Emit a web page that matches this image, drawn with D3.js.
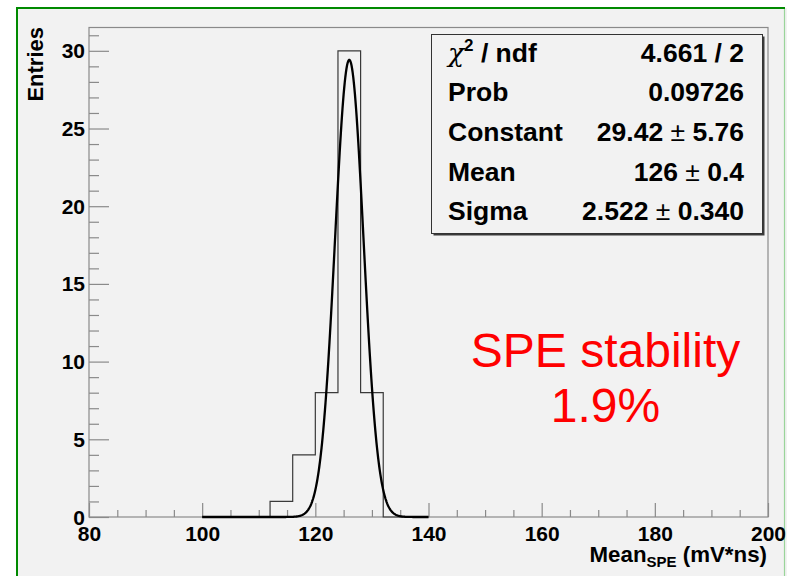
<!DOCTYPE html>
<html>
<head>
<meta charset="utf-8">
<script src="https://cdn.jsdelivr.net/npm/d3@7"></script>
<style>
  html, body { margin: 0; padding: 0; background: #ffffff; }
  svg { display: block; font-family: "Liberation Sans", Arial, Helvetica, sans-serif; }
</style>
</head>
<body>
<svg id="chart" width="787" height="576"></svg>
<script>
// Histogram of the mean single-photo-electron charge, 4 mV*ns bins from 100 to 140
const binEdges = [100, 104, 108, 112, 116, 120, 124, 128, 132, 136, 140];
const binCounts = [0, 0, 0, 1, 4, 8, 30, 8, 0, 0];

// Axis ticks
const xMajorTicks = [80, 100, 120, 140, 160, 180, 200];
const yMajorTicks = [0, 5, 10, 15, 20, 25, 30];

// Gaussian fit results shown in the stats box
const fitChi2 = "4.661";
const fitNdf = "2";
const fitProb = "0.09726";
const fitConstant = ["29.42", "5.76"];
const fitMean = ["126", "0.4"];
const fitSigma = ["2.522", "0.340"];
const fitRange = [100, 140];

const noteLines = ["SPE stability", "1.9%"];

const svg = d3.select("#chart");
const W = 787, H = 576;

// canvas: light grey pad inside a green frame
svg.append("rect").attr("x", 17).attr("y", 8).attr("width", W).attr("height", H)
  .attr("fill", "#f2f2f2");
svg.append("line").attr("x1", 17).attr("x2", 17).attr("y1", 8).attr("y2", H)
  .attr("stroke", "#008a00").attr("stroke-width", 2);
svg.append("line").attr("x1", 16).attr("x2", 785).attr("y1", 8).attr("y2", 8)
  .attr("stroke", "#008a00").attr("stroke-width", 2);
svg.append("line").attr("x1", 784.5).attr("x2", 784.5).attr("y1", 9).attr("y2", H)
  .attr("stroke", "#9ad49a").attr("stroke-width", 1.2);

const x = d3.scaleLinear().domain([80, 200]).range([89, 768]);
const y = d3.scaleLinear().domain([0, 31.5]).range([517, 27.5]);

const axisColor = "#8a8a8a";
const tickFont = 21;

// frame
svg.append("rect")
  .attr("x", x(80)).attr("y", y(31.5))
  .attr("width", x(200) - x(80)).attr("height", y(0) - y(31.5))
  .attr("fill", "none").attr("stroke", axisColor).attr("stroke-width", 1.2);

// x axis: minor ticks every 5, majors every 20
const xMinor = d3.range(80, 200.1, 5).filter(v => v % 20 !== 0);
const gx = svg.append("g").attr("transform", `translate(0,${y(0)})`);
gx.call(d3.axisBottom(x).tickValues(xMinor).tickSizeInner(-7).tickSizeOuter(0).tickFormat(""));
gx.call(g => g.select(".domain").remove());
const gx2 = svg.append("g").attr("transform", `translate(0,${y(0)})`);
gx2.call(d3.axisBottom(x).tickValues(xMajorTicks).tickSizeInner(-14).tickSizeOuter(0).tickPadding(0).tickFormat(d3.format("d")));
gx2.call(g => g.select(".domain").remove());
[gx, gx2].forEach(g => g.selectAll(".tick line").attr("stroke", axisColor).attr("stroke-width", 1.2));
gx2.selectAll(".tick text")
  .attr("y", 23.5).attr("dy", null)
  .attr("fill", "#000").attr("font-size", tickFont).attr("font-weight", "bold")
  .attr("font-family", "'Liberation Sans', Arial, sans-serif");

// y axis: minor ticks every 1, majors every 5
const yMinor = d3.range(0, 31.1, 1).filter(v => v % 5 !== 0);
const gy = svg.append("g").attr("transform", `translate(${x(80)},0)`);
gy.call(d3.axisLeft(y).tickValues(yMinor).tickSizeInner(-10).tickSizeOuter(0).tickFormat(""));
gy.call(g => g.select(".domain").remove());
const gy2 = svg.append("g").attr("transform", `translate(${x(80)},0)`);
gy2.call(d3.axisLeft(y).tickValues(yMajorTicks).tickSizeInner(-20).tickSizeOuter(0).tickPadding(4).tickFormat(d3.format("d")));
gy2.call(g => g.select(".domain").remove());
[gy, gy2].forEach(g => g.selectAll(".tick line").attr("stroke", axisColor).attr("stroke-width", 1.2));
gy2.selectAll(".tick text")
  .attr("dy", null).attr("y", 7)
  .attr("fill", "#000").attr("font-size", tickFont).attr("font-weight", "bold")
  .attr("font-family", "'Liberation Sans', Arial, sans-serif");

// axis titles
svg.append("text")
  .attr("transform", `translate(43,27) rotate(-90)`)
  .attr("text-anchor", "end")
  .attr("font-size", 22).attr("font-weight", "bold")
  .text("Entries");

const xTitle = svg.append("text")
  .attr("x", 767).attr("y", 562)
  .attr("text-anchor", "end")
  .attr("font-size", 22.3).attr("font-weight", "bold");
xTitle.append("tspan").text("Mean");
xTitle.append("tspan").attr("font-size", 15).attr("dy", 5).text("SPE");
xTitle.append("tspan").attr("dy", -5).text(" (mV*ns)");

// histogram outline as a step path
const stepPts = [];
binCounts.forEach((c, i) => {
  stepPts.push([binEdges[i], c]);
  stepPts.push([binEdges[i + 1], c]);
});
const histLine = d3.line().x(d => x(d[0])).y(d => y(d[1]));
svg.append("path")
  .attr("d", histLine([[binEdges[0], 0], ...stepPts, [binEdges[binEdges.length - 1], 0]]))
  .attr("fill", "none").attr("stroke", "#3a3a3a").attr("stroke-width", 1.2);

// fitted Gaussian, using the parameters reported in the stats box
const A = +fitConstant[0], mu = +fitMean[0], sig = +fitSigma[0];
const fitPts = d3.range(fitRange[0], fitRange[1] + 0.001, 0.1)
  .map(v => [v, A * Math.exp(-0.5 * ((v - mu) / sig) ** 2)]);
svg.append("path")
  .attr("d", d3.line().x(d => x(d[0])).y(d => y(d[1])).curve(d3.curveLinear)(fitPts))
  .attr("fill", "none").attr("stroke", "#000").attr("stroke-width", 2.3)
  .attr("stroke-linejoin", "round");

// stats box
const box = { x: 431.5, y: 34.5, w: 331, h: 199 };
svg.append("rect")
  .attr("x", box.x + 2).attr("y", box.y + 2).attr("width", box.w).attr("height", box.h)
  .attr("fill", "#3a3a3a");
svg.append("rect")
  .attr("x", box.x).attr("y", box.y).attr("width", box.w).attr("height", box.h)
  .attr("fill", "#f2f2f2").attr("stroke", "#333").attr("stroke-width", 1);

const rows = [
  { name: "chi", value: [fitChi2 + " / " + fitNdf] },
  { name: "Prob", value: [fitProb] },
  { name: "Constant", value: fitConstant },
  { name: "Mean", value: fitMean },
  { name: "Sigma", value: fitSigma }
];
const statFont = 26.5;
const leftX = 448, rightX = 744;
rows.forEach((r, i) => {
  const by = 61.7 + i * 39.6;
  const t = svg.append("text").attr("x", leftX).attr("y", by)
    .attr("font-size", statFont).attr("font-weight", "bold");
  if (r.name === "chi") {
    t.append("tspan").attr("font-weight", "normal").attr("font-family", "'DejaVu Serif', 'Liberation Serif', serif")
      .attr("font-style", "italic").text("χ");
    t.append("tspan").attr("font-size", 17).attr("dy", -11).text("2");
    t.append("tspan").attr("dy", 11).text(" / ndf");
  } else {
    t.text(r.name);
  }
  const v = svg.append("text").attr("x", rightX).attr("y", by)
    .attr("text-anchor", "end").attr("font-size", statFont).attr("font-weight", "bold");
  v.append("tspan").text(r.value[0]);
  if (r.value.length > 1) {
    v.append("tspan").attr("font-weight", "normal").text(" ± ");
    v.append("tspan").text(r.value[1]);
  }
});

// annotation
noteLines.forEach((s, i) => {
  svg.append("text")
    .attr("x", 605.5).attr("y", 366.5 + i * 55)
    .attr("text-anchor", "middle")
    .attr("font-size", 48).attr("fill", "#ff0000")
    .text(s);
});
</script>
</body>
</html>
